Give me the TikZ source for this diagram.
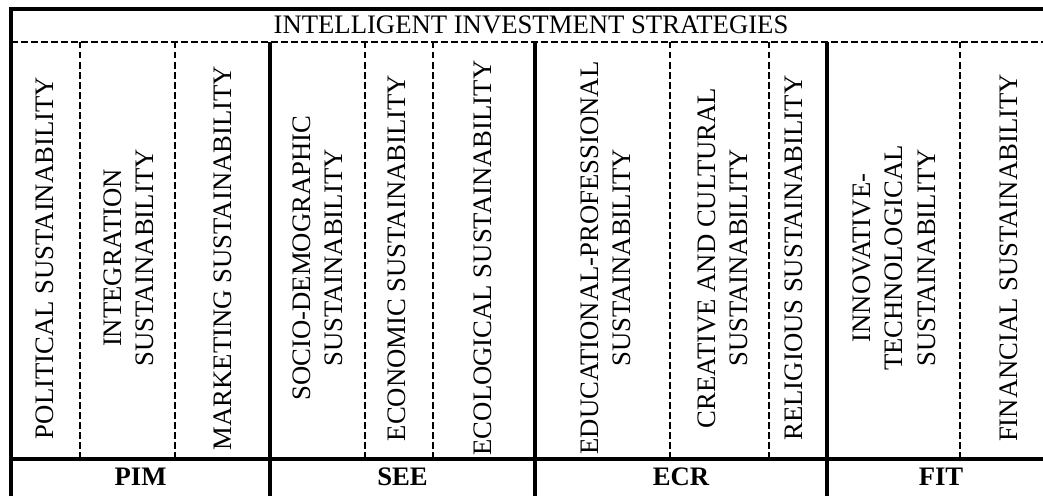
\documentclass[tikz,border=0pt]{standalone}
\usepackage{fontspec}
\setmainfont{Liberation Serif}
\begin{document}
\begin{tikzpicture}[x=1pt,y=-1pt,
  outer rule/.style={line width=3.8pt},
  inner rule/.style={line width=3.2pt},
  dash rule/.style={line width=2pt, dash pattern=on 6.5pt off 3.5pt},
  lbl/.style={font=\fontsize{26.7}{32.5}\selectfont, inner sep=0pt, align=center},
  vlbl/.style={lbl, rotate=90},
  grp/.style={font=\fontsize{26.7}{32.5}\selectfont\bfseries, inner sep=0pt}]
\useasboundingbox (0,0) rectangle (1043,495);
\clip (0,0) rectangle (1043,495);
% frame
\coordinate (TL) at (11,9);
\coordinate (BR) at (1055,515);
\draw[outer rule] (TL) rectangle (BR);
% horizontal rules
\coordinate (hdL) at (11,42);
\coordinate (hdR) at (1055,42);
\coordinate (hsL) at (11,459);
\coordinate (hsR) at (1055,459);
\draw[dash rule] (hdL) -- (hdR);
\draw[inner rule] (hsL) -- (hsR);
% solid group separators
\foreach \x [count=\i] in {270,535,827} {
  \coordinate (st\i) at (\x,42);
  \coordinate (sb\i) at (\x,515);
  \draw[inner rule] (st\i) -- (sb\i);
}
% dashed column separators
\foreach \x [count=\i] in {80,175,365,433,670,769,960} {
  \coordinate (dt\i) at (\x,42);
  \coordinate (db\i) at (\x,459);
  \draw[dash rule] (dt\i) -- (db\i);
}
% title
\node[lbl] (title) at (531,25) {INTELLIGENT INVESTMENT STRATEGIES};
% column labels
\node[vlbl] (c1) at (45,258) {POLITICAL SUSTAINABILITY};
\node[vlbl] (c2) at (129,258) {INTEGRATION\\SUSTAINABILITY};
\node[vlbl] (c3) at (223,258) {MARKETING SUSTAINABILITY};
\node[vlbl] (c4) at (318,258) {SOCIO-DEMOGRAPHIC\\SUSTAINABILITY};
\node[vlbl] (c5) at (397,258) {ECONOMIC SUSTAINABILITY};
\node[vlbl] (c6) at (483,258) {ECOLOGICAL SUSTAINABILITY};
\node[vlbl] (c7) at (606,258) {EDUCATIONAL-PROFESSIONAL\\SUSTAINABILITY};
\node[vlbl] (c8) at (723,258) {CREATIVE AND CULTURAL\\SUSTAINABILITY};
\node[vlbl] (c9) at (794,258) {RELIGIOUS SUSTAINABILITY};
\node[vlbl] (c10) at (894,258) {INNOVATIVE-\\TECHNOLOGICAL\\SUSTAINABILITY};
\node[vlbl] (c11) at (1009,258) {FINANCIAL SUSTAINABILITY};
% group labels
\node[grp] (pim) at (140.5,477) {PIM};
\node[grp] (see) at (402.5,477) {SEE};
\node[grp] (ecr) at (681,477) {ECR};
\node[grp] (fit) at (941,477) {FIT};
\end{tikzpicture}
\end{document}
